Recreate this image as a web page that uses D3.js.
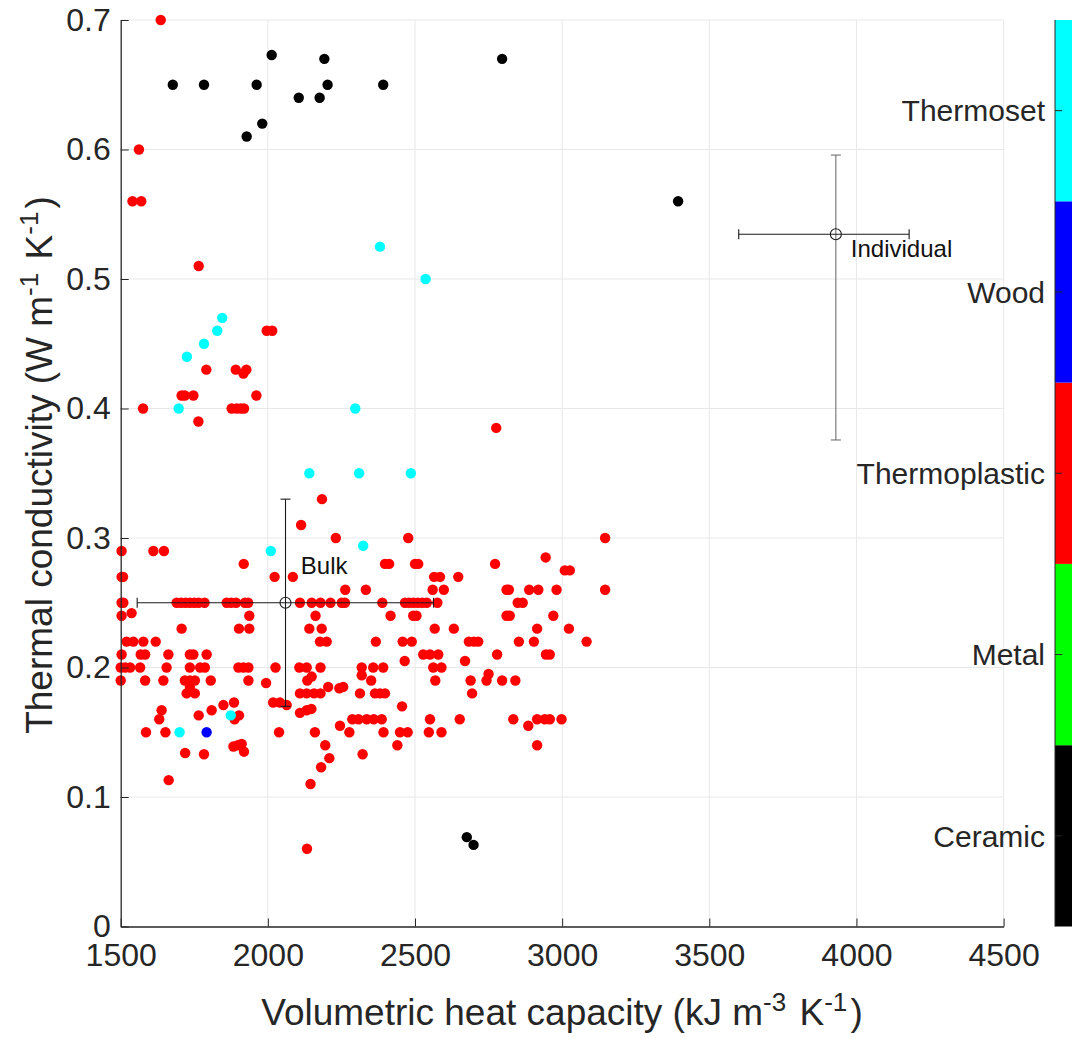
<!DOCTYPE html>
<html>
<head>
<meta charset="utf-8">
<script src="https://cdn.jsdelivr.net/npm/d3@7"></script>
<style>
  body { margin: 0; background: #fff; }
  svg { font-family: "Liberation Sans", Arial, sans-serif; }
</style>
</head>
<body>
<script>
// points: [volumetric heat capacity, thermal conductivity]
const thermoplastic = [
  [1636,0.70],[1562,0.60],[1540,0.56],[1570,0.56],[1765,0.51],
  [1996,0.46],[2015,0.46],
  [1791,0.43],[1891,0.43],[1927,0.43],[1917,0.427],
  [1707,0.41],[1718,0.41],[1747,0.41],[1961,0.41],
  [1576,0.40],[1877,0.40],[1894,0.40],[1908,0.40],[1919,0.40],
  [1764,0.39],[2776,0.385],
  [2184,0.33],[2113,0.31],
  [2231,0.30],[2477,0.30],[3146,0.30],
  [1503,0.29],[1611,0.29],[1647,0.29],[2944,0.285],
  [1918,0.28],[2398,0.28],[2412,0.28],[2500,0.28],[2511,0.28],[2772,0.28],
  [3009,0.275],[3026,0.275],
  [1503,0.27],[1508,0.27],[2023,0.27],[2085,0.27],[2565,0.27],[2585,0.27],[2647,0.27],
  [2263,0.26],[2333,0.26],[2560,0.26],[2598,0.26],[2811,0.26],[2819,0.26],[2888,0.26],[2919,0.26],[2981,0.26],[3146,0.26],
  [1503,0.25],[1509,0.25],[1690,0.25],[1705,0.25],[1720,0.25],[1735,0.25],[1750,0.25],[1765,0.25],[1785,0.25],
  [1860,0.25],[1875,0.25],[1892,0.25],[1922,0.25],[1933,0.25],[2109,0.25],[2149,0.25],[2179,0.25],[2213,0.25],
  [2251,0.25],[2262,0.25],[2389,0.25],[2466,0.25],[2480,0.25],[2495,0.25],[2510,0.25],[2525,0.25],[2540,0.25],
  [2576,0.25],[2849,0.25],[2866,0.25],
  [1537,0.242],
  [1503,0.24],[1937,0.24],[2162,0.24],[2417,0.24],[2494,0.24],[2505,0.24],[2811,0.24],[2822,0.24],[2970,0.24],
  [1707,0.23],[1902,0.23],[1937,0.23],[2141,0.23],[2183,0.23],[2567,0.23],[2632,0.23],[2915,0.23],[3023,0.23],
  [1520,0.22],[1543,0.22],[1577,0.22],[1619,0.22],[2177,0.22],[2200,0.22],[2367,0.22],[2458,0.22],[2489,0.22],
  [2683,0.22],[2700,0.22],[2715,0.22],[2853,0.22],[2904,0.22],[3083,0.22],
  [1503,0.21],[1568,0.21],[1583,0.21],[1662,0.21],[1735,0.21],[1747,0.21],[1792,0.21],[2528,0.21],[2551,0.21],
  [2579,0.21],[2779,0.21],[2945,0.21],[2958,0.21],
  [2465,0.205],[2670,0.205],
  [1500,0.20],[1515,0.20],[1532,0.20],[1566,0.20],[1656,0.20],[1735,0.20],[1770,0.20],[1786,0.20],[1900,0.20],
  [1917,0.20],[1934,0.20],[2026,0.20],[2107,0.20],[2132,0.20],[2179,0.20],[2319,0.20],[2358,0.20],[2392,0.20],
  [2562,0.20],[2590,0.20],
  [2149,0.193],[2319,0.194],[2750,0.195],
  [1500,0.19],[1583,0.19],[1645,0.19],[1718,0.19],[1735,0.19],[1752,0.19],[1806,0.19],[1934,0.19],[2134,0.19],
  [2351,0.19],[2569,0.19],[2689,0.19],[2743,0.19],[2796,0.19],[2841,0.19],
  [1994,0.188],
  [1735,0.185],[2205,0.185],[2243,0.184],[2256,0.185],
  [1724,0.18],[1752,0.18],[2109,0.18],[2132,0.18],[2157,0.18],[2179,0.18],[2313,0.18],[2364,0.18],[2381,0.18],
  [2398,0.18],[2694,0.18],
  [1849,0.171],[1885,0.173],[2018,0.173],[2041,0.173],[2064,0.171],[2456,0.17],
  [2109,0.165],[2132,0.167],[2148,0.168],[1639,0.167],[1809,0.167],
  [1631,0.16],[1765,0.163],[1902,0.163],[1887,0.16],[2287,0.16],[2308,0.16],[2336,0.16],[2360,0.16],[2387,0.16],
  [2551,0.16],[2652,0.16],[2834,0.16],[2915,0.16],[2941,0.16],[2958,0.16],[2998,0.16],
  [2245,0.155],[2885,0.155],
  [1586,0.15],[1652,0.15],[2038,0.15],[2160,0.15],[2277,0.15],[2393,0.15],[2449,0.15],[2475,0.15],[2547,0.15],[2590,0.15],
  [1883,0.139],[1898,0.14],[1911,0.141],[2195,0.14],[2440,0.14],[2915,0.14],
  [1719,0.134],[1783,0.133],[1919,0.135],[2322,0.133],
  [2209,0.13],[2181,0.123],[1663,0.113],[2145,0.11],[2133,0.06]
];

const thermoset = [
  [1845,0.47],[1828,0.46],[1783,0.45],[1725,0.44],[1697,0.40],[2297,0.40],
  [2381,0.525],[2536,0.50],[2141,0.35],[2310,0.35],[2486,0.35],
  [2010,0.29],[2324,0.294],[1874,0.163],[1700,0.15]
];

const wood = [[1792,0.15]];

const metal = [];

const ceramic = [
  [1677,0.65],[1783,0.65],[1928,0.61],[1962,0.65],[1981,0.62],[2013,0.673],
  [2105,0.64],[2176,0.64],[2192,0.67],[2203,0.65],[2392,0.65],[2796,0.67],
  [3394,0.56],[2676,0.069],[2699,0.063]
];

// mean with error extents: [x, y, xLow, xHigh, yLow, yHigh]
const bulk = [2060, 0.25, 1556, 2563, 0.17, 0.33];
const individual = [3930, 0.5345, 3600, 4179, 0.3757, 0.5957];

const categories = ["Ceramic", "Metal", "Thermoplastic", "Wood", "Thermoset"];
const catColors = ["#000000", "#00ff00", "#ff0000", "#0000ff", "#00ffff"];

const xTicks = [1500, 2000, 2500, 3000, 3500, 4000, 4500];
const yTicks = [0, 0.1, 0.2, 0.3, 0.4, 0.5, 0.6, 0.7];

const width = 1072;
const height = 1038;
const marginTop = 20;
const marginLeft = 120.7;
const plotRight = 1003.6;
const plotBottom = 926.5;
const ink = "#262626";

const x = d3.scaleLinear().domain([1500, 4500]).range([marginLeft, plotRight]);
const y = d3.scaleLinear().domain([0, 0.7]).range([plotBottom, marginTop]);

const svg = d3.select("body")
  .append("svg")
    .attr("width", width)
    .attr("height", height)
    .attr("viewBox", [0, 0, width, height]);

// grid
svg.append("g")
    .attr("stroke", "#e8e8e8")
    .attr("stroke-width", 1)
  .call(g => g.selectAll("line.vx")
    .data(xTicks.slice(1))
    .join("line")
      .attr("x1", d => x(d)).attr("x2", d => x(d))
      .attr("y1", marginTop).attr("y2", plotBottom))
  .call(g => g.selectAll("line.hy")
    .data(yTicks.slice(1))
    .join("line")
      .attr("x1", marginLeft).attr("x2", plotRight)
      .attr("y1", d => y(d)).attr("y2", d => y(d)));

// points
const groups = [
  {data: thermoplastic, color: catColors[2]},
  {data: thermoset, color: catColors[4]},
  {data: wood, color: catColors[3]},
  {data: metal, color: catColors[1]},
  {data: ceramic, color: catColors[0]}
];

svg.append("g")
  .selectAll("g")
  .data(groups)
  .join("g")
    .attr("fill", d => d.color)
  .selectAll("circle")
  .data(d => d.data)
  .join("circle")
    .attr("cx", d => x(d[0]))
    .attr("cy", d => y(d[1]))
    .attr("r", 5.2);

// error bars
function errorBar(d, vColor) {
  const g = svg.append("g").attr("fill", "none").attr("stroke-width", 1.1);
  const cap = 5;
  g.append("line").attr("stroke", vColor)
    .attr("x1", x(d[0])).attr("x2", x(d[0]))
    .attr("y1", y(d[4])).attr("y2", y(d[5]));
  g.append("line").attr("stroke", vColor)
    .attr("x1", x(d[0]) - cap).attr("x2", x(d[0]) + cap)
    .attr("y1", y(d[4])).attr("y2", y(d[4]));
  g.append("line").attr("stroke", vColor)
    .attr("x1", x(d[0]) - cap).attr("x2", x(d[0]) + cap)
    .attr("y1", y(d[5])).attr("y2", y(d[5]));
  g.append("line").attr("stroke", "#1a1a1a")
    .attr("x1", x(d[2])).attr("x2", x(d[3]))
    .attr("y1", y(d[1])).attr("y2", y(d[1]));
  g.append("line").attr("stroke", "#1a1a1a")
    .attr("x1", x(d[2])).attr("x2", x(d[2]))
    .attr("y1", y(d[1]) - cap).attr("y2", y(d[1]) + cap);
  g.append("line").attr("stroke", "#1a1a1a")
    .attr("x1", x(d[3])).attr("x2", x(d[3]))
    .attr("y1", y(d[1]) - cap).attr("y2", y(d[1]) + cap);
  g.append("circle").attr("stroke", "#1a1a1a")
    .attr("cx", x(d[0])).attr("cy", y(d[1])).attr("r", 5.5);
}
errorBar(bulk, "#1a1a1a");
errorBar(individual, "#707070");

svg.append("text")
    .attr("x", x(2112)).attr("y", y(0.272))
    .attr("font-size", 24).attr("fill", "#111")
    .text("Bulk");
svg.append("text")
    .attr("x", x(3981)).attr("y", y(0.517))
    .attr("font-size", 24).attr("fill", "#111")
    .text("Individual");

// Y axis
svg.append("g")
    .attr("transform", `translate(${marginLeft},0)`)
    .call(d3.axisLeft(y).tickValues(yTicks).tickSizeInner(-8).tickSizeOuter(0).tickPadding(10)
      .tickFormat(d => d === 0 ? "0" : d3.format(".1f")(d)))
    .call(g => g.selectAll(".domain").attr("stroke", ink).attr("stroke-width", 1.3))
    .call(g => g.selectAll(".tick line").attr("stroke", ink))
    .call(g => g.selectAll("text").attr("font-size", 32).attr("fill", ink)
      .attr("font-family", "Liberation Sans, Arial, sans-serif"));

// X axis
svg.append("g")
    .attr("transform", `translate(0,${plotBottom})`)
    .call(d3.axisBottom(x).tickValues(xTicks).tickSizeInner(-8).tickSizeOuter(0).tickPadding(17)
      .tickFormat(d3.format("d")))
    .call(g => g.selectAll(".domain").attr("stroke", ink).attr("stroke-width", 1.3))
    .call(g => g.selectAll(".tick line").attr("stroke", ink))
    .call(g => g.selectAll("text").attr("font-size", 32).attr("fill", ink)
      .attr("font-family", "Liberation Sans, Arial, sans-serif"));

// axis title with superscripts
function supTitle(sel, parts) {
  parts.forEach(([txt, sup]) => {
    sel.append("tspan").text(txt);
    sel.append("tspan").attr("dy", -14).attr("font-size", 26).text(sup);
    sel.append("tspan").attr("dy", 14).text("\u200a");
  });
}

const xl = svg.append("text")
    .attr("text-anchor", "middle")
    .attr("x", 562)
    .attr("y", 1025)
    .attr("font-size", 37)
    .attr("fill", ink);
supTitle(xl, [["Volumetric heat capacity (kJ m", "-3"], [" K", "-1"]]);
xl.append("tspan").text(")");

const yl = svg.append("text")
    .attr("text-anchor", "middle")
    .attr("transform", "rotate(-90)")
    .attr("x", -465)
    .attr("y", 52)
    .attr("font-size", 37)
    .attr("fill", ink);
supTitle(yl, [["Thermal conductivity (W m", "-1"], [" K", "-1"]]);
yl.append("tspan").text(")");

// colour bar
const cb = d3.scaleBand().domain(categories).range([plotBottom, marginTop]);
const cbX = 1055;

svg.append("g")
  .selectAll("rect")
  .data(categories)
  .join("rect")
    .attr("x", cbX)
    .attr("y", d => cb(d))
    .attr("width", 20)
    .attr("height", cb.bandwidth())
    .attr("fill", (d, i) => catColors[i]);

svg.append("line")
    .attr("x1", cbX).attr("x2", cbX)
    .attr("y1", marginTop).attr("y2", plotBottom)
    .attr("stroke", ink).attr("stroke-width", 1);

svg.append("g")
  .selectAll("line")
  .data(categories)
  .join("line")
    .attr("x1", cbX).attr("x2", cbX + 7)
    .attr("y1", d => cb(d) + cb.bandwidth() / 2)
    .attr("y2", d => cb(d) + cb.bandwidth() / 2)
    .attr("stroke", ink);

svg.append("g")
  .selectAll("text")
  .data(categories)
  .join("text")
    .attr("x", 1045)
    .attr("y", d => cb(d) + cb.bandwidth() / 2)
    .attr("dy", "0.36em")
    .attr("text-anchor", "end")
    .attr("font-size", 30)
    .attr("fill", ink)
    .text(d => d);
</script>
</body>
</html>
